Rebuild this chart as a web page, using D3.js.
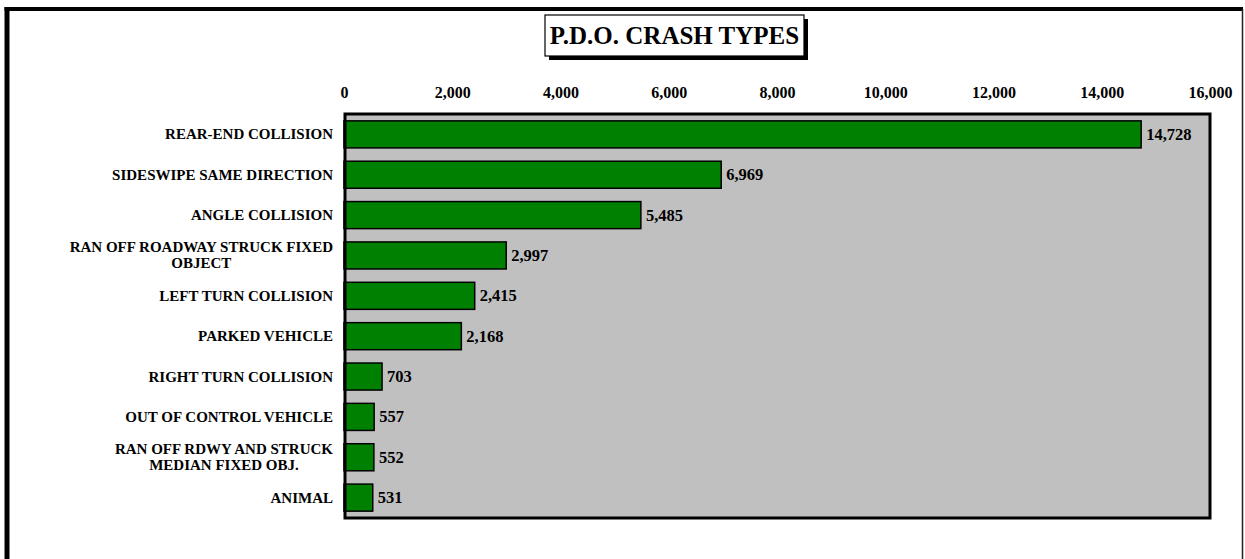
<!DOCTYPE html>
<html>
<head>
<meta charset="utf-8">
<script src="https://cdn.jsdelivr.net/npm/d3@7"></script>
<style>
  html, body { margin: 0; padding: 0; background: #fff; }
  svg { display: block; }
  text { font-family: "Liberation Serif", "Times New Roman", serif; font-weight: bold; fill: #000; }
</style>
</head>
<body>
<script>
// Property-damage-only crash counts by crash type
const categories = [
  ["REAR-END COLLISION"],
  ["SIDESWIPE SAME DIRECTION"],
  ["ANGLE COLLISION"],
  ["RAN OFF ROADWAY STRUCK FIXED", "OBJECT"],
  ["LEFT TURN COLLISION"],
  ["PARKED VEHICLE"],
  ["RIGHT TURN COLLISION"],
  ["OUT OF CONTROL VEHICLE"],
  ["RAN OFF RDWY AND STRUCK", "MEDIAN FIXED OBJ."],
  ["ANIMAL"]
];
const crashCounts = [14728, 6969, 5485, 2997, 2415, 2168, 703, 557, 552, 531];
const tickValues = [0, 2000, 4000, 6000, 8000, 10000, 12000, 14000, 16000];
const chartTitle = "P.D.O. CRASH TYPES";

const W = 1245, H = 559;
const plot = { left: 345, top: 114, right: 1210, bottom: 518 };

const svg = d3.select("body").append("svg").attr("width", W).attr("height", H);

// outer frame
svg.append("line").attr("x1", 7).attr("x2", 7).attr("y1", 7).attr("y2", H)
  .attr("stroke", "#000").attr("stroke-width", 5);
svg.append("line").attr("x1", 4.5).attr("x2", 1243).attr("y1", 9).attr("y2", 9)
  .attr("stroke", "#000").attr("stroke-width", 4);
svg.append("line").attr("x1", 1242.5).attr("x2", 1242.5).attr("y1", 9).attr("y2", H)
  .attr("stroke", "#222").attr("stroke-width", 1.5);

// title box with drop shadow
const tb = { x: 545, y: 15, w: 259, h: 41 };
svg.append("rect").attr("x", tb.x + 4).attr("y", tb.y + 4).attr("width", tb.w).attr("height", tb.h)
  .attr("fill", "#000");
svg.append("rect").attr("x", tb.x).attr("y", tb.y).attr("width", tb.w).attr("height", tb.h)
  .attr("fill", "#fff").attr("stroke", "#000").attr("stroke-width", 1.2);
svg.append("text").attr("x", tb.x + tb.w / 2).attr("y", tb.y + 29)
  .attr("text-anchor", "middle").style("font-size", "25px").text(chartTitle);

const x = d3.scaleLinear().domain([0, 16000]).range([plot.left - 1, plot.right]);
const y = d3.scaleBand().domain(d3.range(categories.length))
  .range([plot.top, plot.bottom]).paddingInner(0.33).paddingOuter(0.17);

// plot background
svg.append("rect").attr("x", plot.left).attr("y", plot.top)
  .attr("width", plot.right - plot.left).attr("height", plot.bottom - plot.top)
  .attr("fill", "#c0c0c0");

// top axis labels
const axis = d3.axisTop(x).tickValues(tickValues).tickSize(0).tickPadding(0)
  .tickFormat(d3.format(","));
const ax = svg.append("g").attr("transform", `translate(0,${98})`).call(axis);
ax.select(".domain").remove();
ax.selectAll("text").style("font-size", "16px")
  .style("font-family", "Liberation Serif, serif").style("font-weight", "bold");

// bars
svg.append("g").selectAll("rect").data(crashCounts).join("rect")
  .attr("x", x(0)).attr("y", (d, i) => y(i))
  .attr("width", d => x(d) - x(0)).attr("height", y.bandwidth())
  .attr("fill", "#008000").attr("stroke", "#000").attr("stroke-width", 1.5);

// value labels
svg.append("g").selectAll("text").data(crashCounts).join("text")
  .attr("x", d => x(d) + 5).attr("y", (d, i) => y(i) + y.bandwidth() / 2 + 5.5)
  .style("font-size", "16.5px").text(d3.format(","));

// plot frame
svg.append("rect").attr("x", plot.left).attr("y", plot.top)
  .attr("width", plot.right - plot.left).attr("height", plot.bottom - plot.top)
  .attr("fill", "none").attr("stroke", "#000").attr("stroke-width", 3);

// category labels: single lines right-aligned, wrapped lines centred on the widest line
const labelRight = 333;
const lg = svg.append("g");
categories.forEach((lines, i) => {
  const cy = y(i) + y.bandwidth() / 2;
  if (lines.length === 1) {
    lg.append("text").attr("x", labelRight).attr("y", cy + 5)
      .attr("text-anchor", "end").style("font-size", "15px").text(lines[0]);
  } else {
    const texts = lines.map((l, k) => lg.append("text")
      .attr("y", cy + 5 + (k - (lines.length - 1) / 2) * 16)
      .attr("text-anchor", "middle").style("font-size", "15px").text(l));
    const maxW = d3.max(texts, t => t.node().getComputedTextLength());
    texts.forEach(t => t.attr("x", labelRight - maxW / 2));
  }
});
</script>
</body>
</html>
